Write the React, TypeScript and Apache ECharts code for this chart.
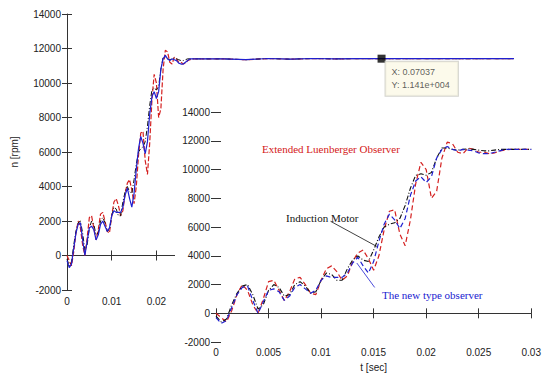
import React, { useEffect, useRef } from "react";
import * as echarts from "echarts";

const tSec = [0, 0.0005, 0.001, 0.0015, 0.002, 0.0025, 0.003, 0.0035, 0.004, 0.0045, 0.005, 0.0055, 0.006, 0.0065, 0.007, 0.0075, 0.008, 0.0085, 0.009, 0.0095, 0.01, 0.0105, 0.011, 0.0115, 0.012, 0.0125, 0.013, 0.0135, 0.014, 0.0145, 0.015, 0.0155, 0.016, 0.0165, 0.017, 0.0175, 0.018, 0.0185, 0.019, 0.0195, 0.02, 0.0205, 0.021, 0.0215, 0.022, 0.0225, 0.023, 0.0235, 0.024, 0.0245, 0.025, 0.0255, 0.026, 0.0265, 0.027, 0.0275, 0.028, 0.0285, 0.029, 0.0295, 0.03];

const luenberger = [0, -300, -600, 200, 1300, 2000, 1600, 600, 0, 1000, 2200, 2300, 1600, 900, 1500, 2400, 2500, 2000, 1400, 1300, 2300, 3100, 3300, 2900, 2300, 2600, 3600, 4200, 4400, 3800, 3000, 4000, 5800, 7100, 7200, 5500, 4700, 6500, 9000, 10500, 10000, 8000, 8500, 10800, 11900, 11800, 11200, 11100, 11500, 11400, 11200, 11200, 11100, 11150, 11300, 11350, 11400, 11400, 11400, 11400, 11400];

const motor = [-200, -600, -400, 600, 1400, 1900, 2000, 1300, 300, 600, 1600, 2000, 1800, 1200, 1300, 2000, 2200, 1900, 1400, 1500, 2300, 2800, 2700, 2300, 2300, 3100, 3700, 4000, 3700, 3600, 4400, 5300, 6000, 6200, 6300, 6600, 7500, 8700, 9600, 9700, 9600, 9800, 10800, 11500, 11500, 11400, 11350, 11400, 11450, 11400, 11350, 11300, 11300, 11350, 11400, 11400, 11400, 11400, 11400, 11400, 11400];

const newObserver = [-300, -700, -500, 400, 1300, 1800, 1900, 900, 0, 800, 1600, 1700, 1500, 900, 1200, 1800, 2000, 1700, 1400, 1600, 2300, 2600, 2500, 2500, 2500, 2800, 3500, 3900, 3300, 2800, 3600, 5000, 6200, 6900, 6500, 5900, 6600, 8200, 9200, 9500, 9100, 9500, 10800, 11400, 11600, 11400, 11300, 11400, 11350, 11300, 11150, 11100, 11100, 11200, 11300, 11400, 11400, 11400, 11400, 11400, 11400];

const tailT = [0.035, 0.04, 0.045, 0.05, 0.055, 0.06, 0.065, 0.07, 0.075, 0.08, 0.085, 0.09, 0.095, 0.1];
const tailV = [11400, 11350, 11420, 11380, 11420, 11400, 11410, 11410, 11410, 11410, 11410, 11410, 11410, 11410];

const dataTip = [0.07037, 11410];
const dataTipText = ["X: 0.07037", "Y: 1.141e+004"];

const mainXTicks = { min: 0, max: 0.1, interval: 0.01 };
const mainXVisibleLabels = ["0", "0.01", "0.02"];
const insetXTicks = { min: 0, max: 0.03, interval: 0.005 };
const yTicks = { min: -2000, max: 14000, interval: 2000 };

// annotation pointer lines in inset data units
const motorPointer = [[0.0109, 6400], [0.0153, 4650]];
const observerPointer = [[0.0134, 3500], [0.0151, 1800]];

const pairs = (ys: number[]) => tSec.map((t, i) => [t, ys[i]]);
const withTail = (ys: number[]) => pairs(ys).concat(tailT.map((t, i) => [t, tailV[i]]));

const RED = "#d42020";
const BLUE = "#2020d0";
const BLACK = "#111111";
const TXT = "#222222";

export default function App() {
  const ref = useRef<HTMLDivElement>(null);
  useEffect(() => {
    if (!ref.current) return;
    const chart = echarts.init(ref.current, null, { renderer: "svg" });
    const labelFont = { fontFamily: "Liberation Sans", fontSize: 10, color: TXT };
    const tickIn = { show: true, inside: true, length: 5, lineStyle: { color: "#333" } };
    const noLine = { show: false };
    const line = { show: true, lineStyle: { color: "#333", width: 1 } };
    const fmt = (v: number) => String(Math.round(v * 10000) / 10000);
    const mainFmt = (v: number) => {
      const s = fmt(v);
      return mainXVisibleLabels.indexOf(s) >= 0 ? s : "";
    };
    const yfmt = (v: number) => String(v);

    chart.setOption({
      animation: false,
      backgroundColor: "#ffffff",
      grid: [
        { left: 67, right: 30, top: 14, bottom: 87, containLabel: false },
        { left: 216, right: 6, top: 112, bottom: 31, containLabel: false },
      ],
      xAxis: [
        { type: "value", gridIndex: 0, position: "bottom", ...mainXTicks, axisLine: line, axisTick: tickIn, splitLine: noLine, axisLabel: { ...labelFont, margin: 6, formatter: mainFmt }, z: 1 },
        { type: "value", gridIndex: 0, position: "top", ...mainXTicks, axisLine: line, axisTick: tickIn, splitLine: noLine, axisLabel: { show: false }, z: 1 },
        { type: "value", gridIndex: 1, position: "bottom", ...insetXTicks, axisLine: line, axisTick: tickIn, splitLine: noLine, axisLabel: { ...labelFont, margin: 5, formatter: fmt }, name: "t [sec]", nameLocation: "middle", nameGap: 18, nameTextStyle: { ...labelFont }, z: 20 },
        { type: "value", gridIndex: 1, position: "top", ...insetXTicks, axisLine: noLine, axisTick: tickIn, splitLine: noLine, axisLabel: { show: false }, z: 20 },
      ],
      yAxis: [
        { type: "value", gridIndex: 0, position: "left", ...yTicks, axisLine: noLine, axisTick: tickIn, splitLine: noLine, axisLabel: { ...labelFont, margin: 6, formatter: yfmt }, name: "n [rpm]", nameLocation: "middle", nameGap: 48, nameRotate: 90, nameTextStyle: { ...labelFont }, z: 1 },
        { type: "value", gridIndex: 0, position: "right", ...yTicks, axisLine: line, axisTick: tickIn, splitLine: noLine, axisLabel: { show: false }, z: 1 },
        { type: "value", gridIndex: 1, position: "left", ...yTicks, axisLine: noLine, axisTick: tickIn, splitLine: noLine, axisLabel: { ...labelFont, margin: 6, formatter: yfmt }, z: 20 },
        { type: "value", gridIndex: 1, position: "right", ...yTicks, axisLine: noLine, axisTick: tickIn, splitLine: noLine, axisLabel: { show: false }, z: 20 },
      ],
      graphic: [
        { type: "rect", shape: { x: 175, y: 100, width: 369, height: 277 }, style: { fill: "#ffffff" }, z: 10 },
        { type: "text", x: 262, y: 149, z: 30, style: { text: "Extended Luenberger Observer", fill: RED, font: "11px 'Liberation Serif'", textVerticalAlign: "middle" } },
        { type: "text", x: 286, y: 218, z: 30, style: { text: "Induction Motor", fill: BLACK, font: "11px 'Liberation Serif'", textVerticalAlign: "middle" } },
        { type: "text", x: 382, y: 295, z: 30, style: { text: "The new type observer", fill: BLUE, font: "11px 'Liberation Serif'", textVerticalAlign: "middle" } },
      ],
      series: [
        { type: "line", xAxisIndex: 0, yAxisIndex: 0, data: withTail(luenberger), showSymbol: false, lineStyle: { color: RED, width: 1.2, type: [5, 2] }, z: 2 },
        { type: "line", xAxisIndex: 0, yAxisIndex: 0, data: withTail(motor), showSymbol: false, lineStyle: { color: BLACK, width: 1, type: [5, 2, 1, 2] }, z: 3 },
        { type: "line", xAxisIndex: 0, yAxisIndex: 0, data: withTail(newObserver), showSymbol: false, lineStyle: { color: BLUE, width: 1.2 }, z: 4 },
        {
          type: "scatter", xAxisIndex: 0, yAxisIndex: 0, data: [dataTip], symbol: "rect", symbolSize: 8, itemStyle: { color: "#000" }, z: 5,
          label: {
            show: true, position: [8, 7], align: "left", verticalAlign: "top",
            formatter: () => dataTipText.join("\n"),
            fontFamily: "Liberation Sans", fontSize: 9, lineHeight: 13, color: "#333",
            backgroundColor: "#fbf9e6", borderColor: "#c8c8c0", borderWidth: 1, padding: [4, 8, 4, 6],
          },
        },
        {
          type: "line", xAxisIndex: 2, yAxisIndex: 2, data: pairs(luenberger), showSymbol: false, lineStyle: { color: RED, width: 1.2, type: [5, 3] }, z: 21,
        },
        {
          type: "line", xAxisIndex: 2, yAxisIndex: 2, data: pairs(motor), showSymbol: false, lineStyle: { color: BLACK, width: 1.1, type: [5, 2, 1, 2] }, z: 22,
          markLine: { silent: true, z: 25, symbol: ["none", "none"], label: { show: false }, lineStyle: { color: BLACK, width: 0.8, type: "solid" }, data: [[{ coord: motorPointer[0] }, { coord: motorPointer[1] }]] },
        },
        {
          type: "line", xAxisIndex: 2, yAxisIndex: 2, data: pairs(newObserver), showSymbol: false, lineStyle: { color: BLUE, width: 1.2, type: [5, 3] }, z: 23,
          markLine: { silent: true, z: 25, symbol: ["none", "none"], label: { show: false }, lineStyle: { color: BLUE, width: 0.8, type: "solid" }, data: [[{ coord: observerPointer[0] }, { coord: observerPointer[1] }]] },
        },
      ],
    });
    return () => chart.dispose();
  }, []);
  return <div ref={ref} style={{ position: "fixed", left: 0, top: 0, width: 544, height: 377 }} />;
}
